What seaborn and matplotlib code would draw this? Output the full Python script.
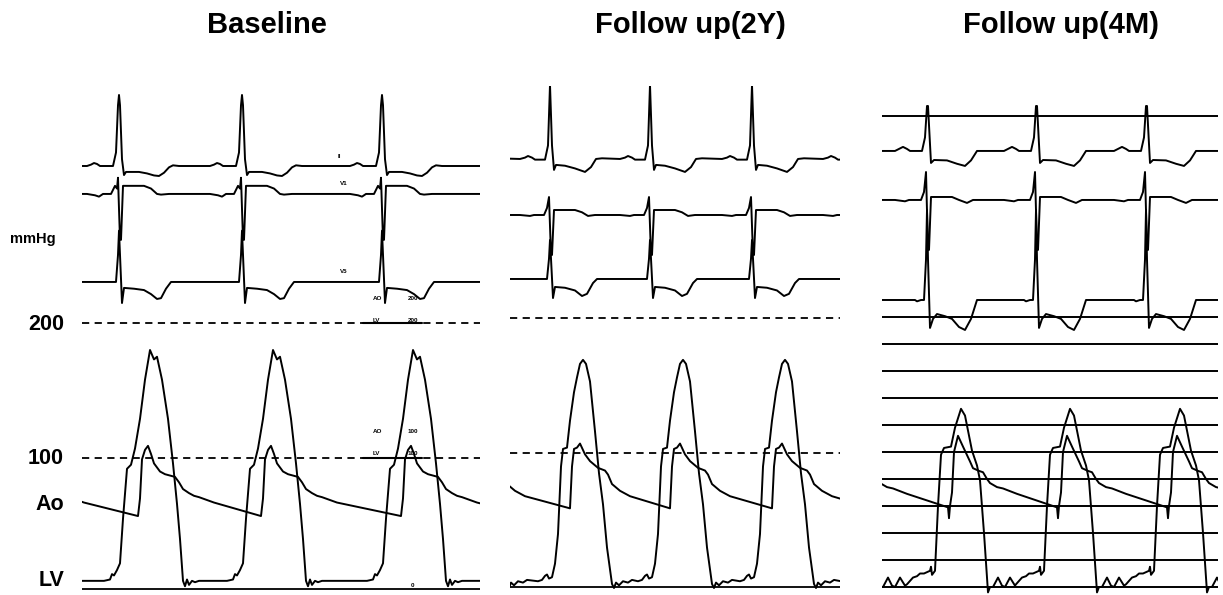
import numpy as np
import pandas as pd
import matplotlib
matplotlib.use("Agg")
import matplotlib.pyplot as plt
import seaborn as sns

# beat (QRS) times per study, in samples from the left edge of each strip
# (first and last entries are the beats just outside the strip)
beats_base = [-93, 37, 160, 300, 430]
beats_2y = [-65, 40, 140, 242, 343]
beats_4m = [-65, 45, 154, 264, 374]

# ECG beat shapes: (offset from QRS, amplitude)
ii_base = [(-32, 0), (-28, 1), (-25, 2.2), (-22, 1.5), (-19, 0), (-6, 0), (-3, 10), (-1, 45), (0, 52.6),
           (1, 45), (3, 5), (5, -6.7), (7, -4.4), (20, -4.4), (28, -5.5), (35, -7), (40, -7.4), (45, -5),
           (50, -1), (54, 0.5), (60, 0)]
v1_base = [(-32, 0), (-24, -1), (-20, -2), (-16, 0), (-8, 0), (-4, 6), (-2, 4), (-1, 12), (1, -34), (2, -34),
           (4, 6), (8, 6), (25, 6), (32, 4), (38, 0), (42, -0.5), (50, 0), (60, 0)]
v5_base = [(-32, 0), (-3, 0), (-1, 20), (0, 38), (1, 20), (3, -15.6), (5, -4.4), (15, -5), (25, -6), (32, -9),
           (38, -12.6), (42, -12), (47, -5), (52, 0), (60, 0)]

ii_2y = [(-30, 0), (-25, 1), (-22, 2.2), (-18, 1), (-15, -0.5), (-5, -0.5), (-2, 10), (0, 54.8), (2, 10),
         (4, -8.1), (6, -4.4), (15, -5), (25, -7), (35, -9.6), (41, -6), (46, 0), (52, 0.5)]
v1_2y = [(-30, 0), (-20, -0.7), (-16, 0), (-6, 0), (-3, 5.2), (-1, 13.3), (1, -29.6), (2, -29.6), (4, 3.7),
         (25, 3.7), (32, 2), (38, -0.7), (45, 0), (52, 0)]
v5_2y = [(-30, 0), (-3, 0), (-1, 15), (0, 28.9), (1, 15), (3, -14.1), (5, -5.9), (15, -6.5), (25, -8.5),
         (32, -12.6), (37, -11), (43, -3), (47, 0), (52, 0)]

ii_4m = [(-32, 0), (-28, 1.5), (-24, 3), (-20, 1.5), (-17, 0), (-5, 0), (-2, 10), (0, 33.3), (1, 33.3), (3, 5),
         (4, -8.9), (7, -6.7), (20, -7), (30, -9.5), (38, -11.1), (44, -7), (50, 0), (56, 0)]
v1_4m = [(-32, 0), (-22, -1), (-18, 0), (-6, 0), (-3, 5.9), (-1, 20.7), (1, -37), (2, -37), (4, 2.2),
         (25, 2.2), (32, 0), (40, -2.2), (46, 0), (56, 0)]
v5_4m = [(-32, 0), (-12, 0), (-10, -1), (-6, 0), (-3, 0), (-1, 30), (0, 66.7), (1, 30), (3, -20.7), (6, -14),
         (10, -10.4), (18, -12), (25, -14), (32, -20), (38, -22.2), (44, -14), (50, 0), (56, 0)]

# pressure beat shapes (offset from QRS, mmHg)
lv_base = [(-15, 9), (-9, 10), (-7, 14), (-5, 13), (-2, 17), (1, 22), (4, 55), (8, 92), (12, 95), (16, 107),
           (21, 129), (26, 158), (31, 180), (35, 173), (38, 175), (43, 158), (49, 129), (54, 96), (58, 66),
           (61, 40), (64, 9), (66, 5), (68, 10), (70, 6), (73, 9), (76, 8), (80, 9)]
ao_base = [(19, 57), (21, 70), (23, 99), (26, 106), (29, 109), (32, 103), (35, 96), (41, 90), (46, 88),
           (51, 87), (56, 86), (60, 82), (64, 77), (70, 74), (75, 72), (80, 71), (95, 67)]

lv_2y = [(-12, 5), (-8, 6), (-5, 9), (-3, 10), (-1, 7), (2, 8), (5, 18), (8, 40), (11, 90), (13, 103), (17, 104),
         (20, 124), (24, 145), (27, 156), (30, 166), (33, 169), (36, 166), (40, 153), (45, 116), (49, 85),
         (53, 62), (57, 30), (62, 3), (64, 0), (66, 4), (69, 2), (73, 5), (78, 4), (82, 6)]
ao_2y = [(20, 59), (22, 90), (24, 103), (27, 104), (30, 107), (35, 99), (40, 94), (48, 89), (55, 87),
         (58, 84), (62, 77), (70, 72), (80, 68)]

lv_4m = [(-20, 2), (-14, 7), (-10, 8), (-7, 10), (-3, 10), (3, 12), (4, 15), (5, 9), (8, 12), (11, 60),
         (14, 98), (17, 103), (24, 104), (28, 118), (34, 132), (38, 127), (45, 101), (50, 90), (53, 79),
         (57, 40), (61, -4), (63, 0), (66, 0), (71, 7), (75, 1), (78, 0), (83, 7), (88, 1)]
ao_4m = [(21, 59), (22, 51), (23, 60), (25, 70), (27, 100), (31, 112), (36, 104), (43, 93), (46, 88),
         (52, 86), (56, 85), (60, 80), (63, 77), (70, 74), (76, 73), (90, 69)]

titles = ["Baseline", "Follow up(2Y)", "Follow up(4M)"]
pressure_refs = [100, 200]
grid_4m = [0, 20, 40, 60, 80, 100, 120, 140, 160, 180, 200, 349]

# layout (pixels on a 1223x595 canvas): left, width, zero-mmHg row, ECG lead baselines
layout = [
    dict(left=82, width=398, zero=593, leads=[316.3, 295.6, 230.4]),
    dict(left=510, width=330, zero=588, leads=[317.8, 276.3, 228.9]),
    dict(left=882, width=336, zero=587, leads=[323.0, 286.7, 212.6]),
]
PX_PER_MMHG = 1.35
YMIN, YMAX = -8, 372

panels = [
    (beats_base, [ii_base, v1_base, v5_base], lv_base, ao_base),
    (beats_2y, [ii_2y, v1_2y, v5_2y], lv_2y, ao_2y),
    (beats_4m, [ii_4m, v1_4m, v5_4m], lv_4m, ao_4m),
]


def trace(beats, shape, base, name):
    rows = []
    for t0 in beats:
        for dt, v in shape:
            rows.append((t0 + dt, base + v, name))
    return pd.DataFrame(rows, columns=["t", "y", "trace"])


W, H = 1223, 595
sns.set_style("white")
plt.rcParams["font.family"] = ["Liberation Sans", "DejaVu Sans"]
plt.rcParams["text.color"] = "black"
fig = plt.figure(figsize=(12.23, 5.95), dpi=100)

axes = []
for i, (beats, ecg, lv, ao) in enumerate(panels):
    lay = layout[i]
    bottom_px = lay["zero"] - YMIN * PX_PER_MMHG
    height_px = (YMAX - YMIN) * PX_PER_MMHG
    ax = fig.add_axes([lay["left"] / W, (H - bottom_px) / H, lay["width"] / W, height_px / H])
    parts = [trace(beats, shp, b, name) for shp, b, name in zip(ecg, lay["leads"], ["II", "V1", "V5"])]
    parts.append(trace(beats, lv, 0, "LV"))
    parts.append(trace(beats, ao, 0, "Ao"))
    df = pd.concat(parts, ignore_index=True)
    sns.lineplot(data=df, x="t", y="y", units="trace", estimator=None, sort=False,
                 color="black", lw=1.4, ax=ax)

    if i < 2:
        for p in pressure_refs:
            ax.axhline(p, color="black", lw=1.3, ls=(0, (4, 3)))
        ax.axhline(3 if i == 0 else 0.7, color="black", lw=1.3)
    else:
        for g in grid_4m:
            ax.axhline(g, color="black", lw=1.4)

    ax.set_xlim(0, lay["width"])
    ax.set_ylim(YMIN, YMAX)
    ax.set_axis_off()
    axes.append(ax)

# calibration marks on the baseline strip
ax0 = axes[0]
small = dict(fontsize=4.5, fontweight="bold", va="center", ha="left", color="black")
for txt, x, y in [("II", 256, 323.7), ("V1", 258, 303.7), ("V5", 258, 237.8),
                  ("AO", 291, 217.8), ("200", 326, 217.8), ("LV", 291, 202.2), ("200", 326, 202.2),
                  ("AO", 291, 119.3), ("100", 326, 119.3), ("LV", 291, 103.7), ("100", 326, 103.7),
                  ("0", 329, 5.2)]:
    ax0.text(x, y, txt, **small)
for p in pressure_refs:
    ax0.plot([281, 340], [p, p], color="black", lw=1.5)

# titles
for txt, cx in zip(titles, [267, 690, 1061]):
    fig.text(cx / W, 1 - 33 / H, txt, fontsize=21, fontweight="bold", ha="center", va="baseline",
             color="black")

# left scale labels
fig.text(10 / W, 1 - 243 / H, "mmHg", fontsize=10.5, fontweight="bold", ha="left", va="baseline",
         color="black")
for txt, py in [("200", 324), ("100", 459), ("Ao", 505), ("LV", 580)]:
    fig.text(64 / W, 1 - py / H, txt, fontsize=15.5, fontweight="bold", ha="right", va="center",
             color="black")

fig.savefig("out.png", dpi=100, facecolor="white")
